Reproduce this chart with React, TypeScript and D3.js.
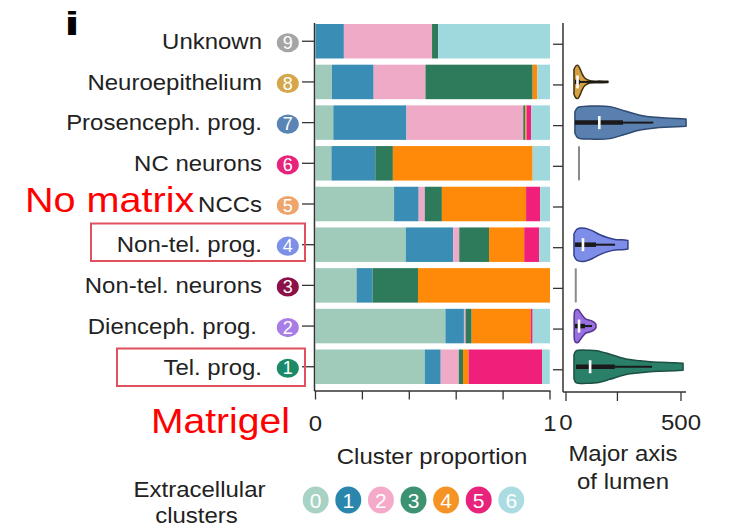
import React from "react";
import * as d3 from "d3";

// ---------- data ----------
// rows listed top to bottom
const rowNames = ["Unknown", "Neuroepithelium", "Prosenceph. prog.", "NC neurons", "NCCs", "Non-tel. prog.", "Non-tel. neurons", "Dienceph. prog.", "Tel. prog."];
const rowIds = ["9", "8", "7", "6", "5", "4", "3", "2", "1"];
const rowColors = ["#a5a5a5", "#d6a64a", "#5a84b4", "#e8237b", "#eea56c", "#7d90e8", "#8c1146", "#a87ee6", "#1b8a68"];

const clusters = ["0", "1", "2", "3", "4", "5", "6"];
const clusterColors = ["#a0cbbb", "#3a8db5", "#eeaac6", "#2e7b5c", "#ff8a0a", "#f0207a", "#9fd9de"];
const legendColors = ["#a8d3c4", "#2b86ae", "#f4aac8", "#3d9272", "#f59324", "#e8237b", "#abdce2"];

// proportion of each extracellular cluster per row (top to bottom)
const c0 = [0, 0.07, 0.076, 0.068, 0.335, 0.385, 0.175, 0.554, 0.466];
const c1 = [0.121, 0.178, 0.312, 0.187, 0.105, 0.202, 0.068, 0.079, 0.068];
const c2 = [0.376, 0.221, 0.498, 0, 0.026, 0.026, 0, 0.007, 0.077];
const c3 = [0.026, 0.457, 0.009, 0.075, 0.073, 0.127, 0.194, 0.026, 0.018];
const c4 = [0, 0.02, 0.005, 0.596, 0.359, 0.15, 0.563, 0.252, 0.024];
const c5 = [0, 0, 0.02, 0, 0.06, 0.064, 0, 0.008, 0.313];
const c6 = [0.477, 0.054, 0.08, 0.074, 0.042, 0.047, 0, 0.074, 0.033];

const barTicks = [0, 0.2, 0.4, 0.6, 0.8, 1];
const barTickLabels = ["0", "", "", "", "", "1"];
const lumenTicks = [0, 100, 500];
const lumenTickLabels = ["0", "", "500"];

// violin profiles: [major axis of lumen, relative density]
const neuroepiProfile: [number, number][] = [[2.4, 0.75], [3.8, 0.98], [5.4, 1], [7.4, 0.8], [9.7, 0.5], [13.6, 0.22], [21.8, 0.07], [43.7, 0.05], [66.7, 0.04]];
const prosencephProfile: [number, number][] = [[3.0, 0.65], [5.4, 0.92], [21.8, 1], [73, 0.97], [132, 0.7], [207, 0.45], [300, 0.32], [409, 0.27], [545, 0.22]];
const nonTelProgProfile: [number, number][] = [[2.4, 0.65], [4.6, 0.95], [13.6, 1], [25.6, 0.85], [43.7, 0.6], [66.7, 0.42], [91, 0.32], [119, 0.3], [145, 0.26]];
const diencephProfile: [number, number][] = [[2.5, 0.65], [3.1, 0.95], [5.4, 1], [8, 0.8], [10.9, 0.6], [15, 0.42], [20, 0.37], [26, 0.3], [31, 0.2], [34, 0.1]];
const telProgProfile: [number, number][] = [[2.4, 0.72], [3.8, 0.96], [21.8, 1], [36, 0.97], [73, 0.76], [132, 0.48], [207, 0.36], [267, 0.3], [334, 0.27], [449, 0.24], [518, 0.21]];

const violinProfiles: ([number, number][] | null)[] = [null, neuroepiProfile, prosencephProfile, null, null, nonTelProgProfile, null, diencephProfile, telProgProfile];
const singleValues: (number | null)[] = [null, null, null, 6.4, null, null, 3.6, null, null];
// [q1, median, q3, whisker high]
const violinStats: ([number, number, number, number] | null)[] = [
  null,
  [3.0, 5.0, 7.4, 66.7],
  [3.0, 41.9, 123, 288],
  null,
  null,
  [3.0, 10.9, 34, 91],
  null,
  [3.0, 6.4, 13.6, 25.6],
  [3.8, 22, 90, 280],
];
const violinFill = [null, "#d4a040", "#5a80b0", null, null, "#7e8ee8", null, "#9a6fe0", "#2a7f68"];
const violinStroke = [null, "#3e3010", "#2e4a70", null, null, "#34408a", null, "#53358f", "#1d4f44"];
const labelDx = [0, 0, 0, 0, 0, 0, 0, -5, 0];

// ---------- helpers ----------
const FONT = "'Liberation Sans', Arial, Helvetica, sans-serif";
const SX = 1.09;

function T({ x, y, anchor = "start", size = 22, sx = SX, fill = "#222", weight = "normal", children }: any) {
  return (
    <text transform={`translate(${x},${y}) scale(${sx},1)`} textAnchor={anchor} fontSize={size} fill={fill} fontWeight={weight} fontFamily={FONT}>
      {children}
    </text>
  );
}

export default function App() {
  const table = rowNames.map((name, i) => ({
    name,
    "0": c0[i], "1": c1[i], "2": c2[i], "3": c3[i], "4": c4[i], "5": c5[i], "6": c6[i],
  }));
  const stacked = d3.stack<any>().keys(clusters)(table);

  const y = d3.scaleBand<string>().domain(rowNames).range([20.9, 387.1]).paddingInner(0.152).paddingOuter(0.076);
  const x = d3.scaleLinear().domain([0, 1]).range([315.5, 550]);
  const xv = d3.scaleSqrt().domain([0, 500]).range([566, 681]);
  const maxH = 16.5;

  const axisColor = "#333";

  return (
    <svg width={730} height={529} style={{ position: "absolute", left: 0, top: 0, background: "#fff" }}>
      {/* panel letter */}
      <T x={64} y={35} size={34} sx={1.7} weight="bold" fill="#000">i</T>

      {/* stacked bars */}
      {stacked.map((layer, k) => (
        <g key={k} fill={clusterColors[k]}>
          {layer.map((d, i) => {
            const w = x(d[1]) - x(d[0]);
            if (w <= 0) return null;
            return <rect key={i} x={x(d[0])} y={y(rowNames[i])!} width={w} height={y.bandwidth()} />;
          })}
        </g>
      ))}

      {/* bar axes */}
      <line x1={314.5} x2={314.5} y1={23} y2={391} stroke={axisColor} strokeWidth={1.5} />
      <line x1={314.5} x2={550.5} y1={391} y2={391} stroke={axisColor} strokeWidth={1.5} />
      {rowNames.map((r) => (
        <line key={r} x1={302} x2={314.5} y1={y(r)! + y.bandwidth() / 2} y2={y(r)! + y.bandwidth() / 2} stroke={axisColor} strokeWidth={1.3} />
      ))}
      {barTicks.map((t, i) => (
        <g key={i}>
          <line x1={x(t)} x2={x(t)} y1={391} y2={399.5} stroke={axisColor} strokeWidth={1.3} />
          {barTickLabels[i] && <T x={x(t)} y={431} anchor="middle">{barTickLabels[i]}</T>}
        </g>
      ))}

      {/* row labels and numbered markers */}
      {rowNames.map((r, i) => {
        const cy = y(r)! + y.bandwidth() / 2;
        return (
          <g key={r}>
            <T x={262 + labelDx[i]} y={cy + 7.8} anchor="end">{r}</T>
            <ellipse cx={287.8} cy={cy + 1.5} rx={11} ry={9.6} fill={rowColors[i]} />
            <text x={287.8} y={cy + 7.6} textAnchor="middle" fontSize={18} fill="#fff" fontFamily={FONT}>{rowIds[i]}</text>
          </g>
        );
      })}

      {/* violin axes */}
      <line x1={563} x2={563} y1={23} y2={392} stroke={axisColor} strokeWidth={1.5} />
      <line x1={563} x2={686} y1={392} y2={392} stroke={axisColor} strokeWidth={1.5} />
      {rowNames.map((r) => (
        <line key={r} x1={553} x2={563} y1={y(r)! + y.bandwidth() / 2 + 3} y2={y(r)! + y.bandwidth() / 2 + 3} stroke={axisColor} strokeWidth={1.3} />
      ))}
      {lumenTicks.map((t, i) => (
        <g key={i}>
          <line x1={xv(t)} x2={xv(t)} y1={392} y2={401} stroke={axisColor} strokeWidth={1.3} />
          {lumenTickLabels[i] && <T x={xv(t)} y={430} anchor="middle">{lumenTickLabels[i]}</T>}
        </g>
      ))}

      {/* violins */}
      {rowNames.map((r, i) => {
        const cy = y(r)! + y.bandwidth() / 2;
        const prof = violinProfiles[i];
        const sv = singleValues[i];
        if (sv != null) {
          return <line key={r} x1={xv(sv)} x2={xv(sv)} y1={cy - 17} y2={cy + 17} stroke="#8a8a8a" strokeWidth={2} />;
        }
        if (!prof) return null;
        const area = d3.area<[number, number]>()
          .x((d) => xv(d[0]))
          .y0((d) => cy - d[1] * maxH)
          .y1((d) => cy + d[1] * maxH)
          .curve(d3.curveCatmullRom);
        const st = violinStats[i]!;
        return (
          <g key={r}>
            <path d={area(prof)!} fill={violinFill[i]!} stroke={violinStroke[i]!} strokeWidth={1.5} strokeLinejoin="round" />
            <line x1={xv(st[2])} x2={xv(st[3])} y1={cy} y2={cy} stroke="#1a1a1a" strokeWidth={2} />
            <line x1={xv(st[0])} x2={xv(st[2])} y1={cy} y2={cy} stroke="#1a1a1a" strokeWidth={4.5} />
            <rect x={xv(st[1]) - 1.3} y={cy - 6.5} width={2.6} height={13} fill="#fff" />
          </g>
        );
      })}

      {/* axis titles */}
      <T x={432} y={464} anchor="middle">Cluster proportion</T>
      <T x={623} y={461} anchor="middle">Major axis</T>
      <T x={623} y={489} anchor="middle">of lumen</T>

      {/* legend */}
      <T x={199.5} y={496.5} anchor="middle">Extracellular</T>
      <T x={196.5} y={523} anchor="middle">clusters</T>
      {clusters.map((c, i) => {
        const cx = 315.7 + i * 32.6;
        return (
          <g key={c}>
            <ellipse cx={cx} cy={500} rx={13} ry={13.5} fill={legendColors[i]} />
            <text x={cx} y={507.5} textAnchor="middle" fontSize={21} fill="#fff" fontFamily={FONT}>{c}</text>
          </g>
        );
      })}

      {/* red annotations */}
      <T x={25} y={211.5} size={36} sx={1.1} fill="#ff0000">No matrix</T>
      <T x={151} y={433} size={35.5} sx={1.1} fill="#ff0000">Matrigel</T>
      <rect x={91} y={223.5} width={214} height={37.5} fill="none" stroke="#e0505e" strokeWidth={2} />
      <rect x={117} y={348.5} width={188} height={37.5} fill="none" stroke="#e0505e" strokeWidth={2} />
    </svg>
  );
}
